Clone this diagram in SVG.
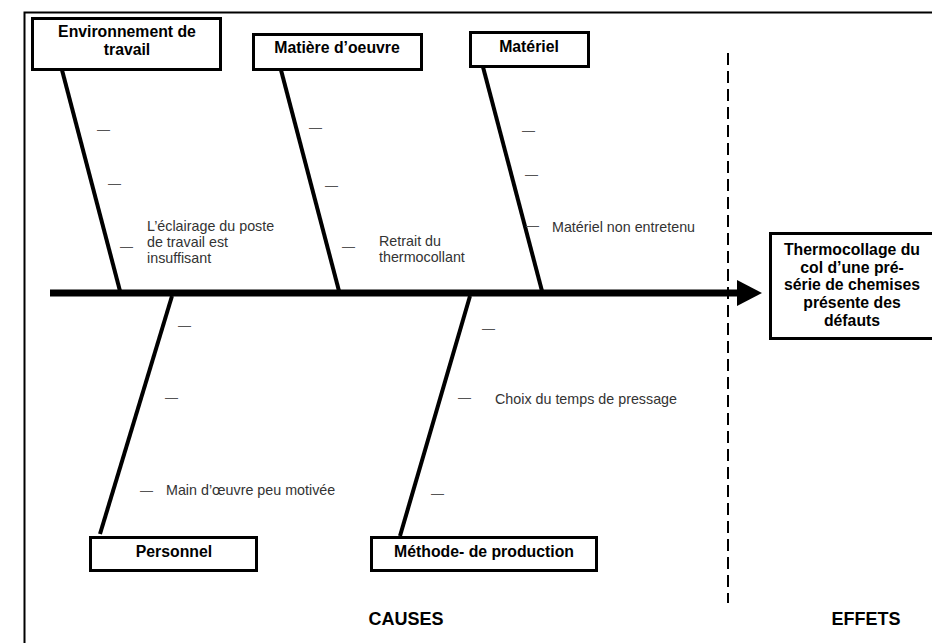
<svg xmlns="http://www.w3.org/2000/svg" width="932" height="643" viewBox="0 0 932 643">
<style>
.box{fill:#fff;stroke:#000;stroke-width:3}
.bone{stroke:#000;stroke-width:4;fill:none}
.t{font-family:"Liberation Sans",Arial,sans-serif;font-weight:bold;font-size:15.8px;fill:#000;text-anchor:middle}
.big{font-family:"Liberation Sans",Arial,sans-serif;font-weight:bold;font-size:18px;fill:#000;text-anchor:middle}
.c{font-family:"Liberation Sans",Arial,sans-serif;font-size:14.3px;fill:#333}
.d{font-family:"Liberation Sans",Arial,sans-serif;font-size:13px;fill:#555}
</style>
<rect x="0" y="0" width="932" height="643" fill="#fff"/>
<rect x="24.5" y="12.5" width="1000" height="700" fill="none" stroke="#000" stroke-width="2"/>
<line x1="728" y1="53" x2="728" y2="603" stroke="#000" stroke-width="2" stroke-dasharray="12,6"/>
<g id="connectors">
<line x1="50" y1="293" x2="739" y2="293" stroke="#000" stroke-width="7"/>
<polygon points="737,280 762,293 737,306" fill="#000"/>
<line class="bone" x1="62" y1="70" x2="120" y2="291"/>
<line class="bone" x1="281" y1="70" x2="339" y2="291"/>
<line class="bone" x1="483" y1="67" x2="542" y2="291"/>
<line class="bone" x1="172" y1="296" x2="100" y2="534"/>
<line class="bone" x1="470" y1="296" x2="400" y2="536"/>
</g>
<g id="environnement">
<rect class="box" x="32.5" y="18.5" width="188" height="51"/>
<text class="t" x="127" y="37">Environnement de</text>
<text class="t" x="127" y="55">travail</text>
<text class="d" x="97" y="134">—</text>
<text class="d" x="108" y="188">—</text>
<text class="d" x="120" y="251">—</text>
<text class="c" x="147" y="231">L’éclairage du poste</text>
<text class="c" x="147" y="247">de travail est</text>
<text class="c" x="147" y="263">insuffisant</text>
</g>
<g id="matiere">
<rect class="box" x="253.5" y="34.5" width="168" height="35"/>
<text class="t" x="337" y="53">Matière d’oeuvre</text>
<text class="d" x="309" y="132">—</text>
<text class="d" x="325" y="190">—</text>
<text class="d" x="342" y="251">—</text>
<text class="c" x="379" y="246">Retrait du</text>
<text class="c" x="379" y="262">thermocollant</text>
</g>
<g id="materiel">
<rect class="box" x="470.5" y="32.5" width="118" height="34"/>
<text class="t" x="529" y="52">Matériel</text>
<text class="d" x="522" y="135">—</text>
<text class="d" x="525" y="179">—</text>
<text class="d" x="526" y="230">—</text>
<text class="c" x="552" y="232">Matériel non entretenu</text>
</g>
<g id="personnel">
<rect class="box" x="90.5" y="537.5" width="166" height="33"/>
<text class="t" x="174" y="557">Personnel</text>
<text class="d" x="178" y="330">—</text>
<text class="d" x="165" y="402">—</text>
<text class="d" x="140" y="495">—</text>
<text class="c" x="166" y="495">Main d’œuvre peu motivée</text>
</g>
<g id="methode">
<rect class="box" x="371.5" y="537.5" width="225" height="33"/>
<text class="t" x="484" y="557">Méthode- de production</text>
<text class="d" x="482" y="333">—</text>
<text class="d" x="458" y="402">—</text>
<text class="d" x="431" y="498">—</text>
<text class="c" x="495" y="404">Choix du temps de pressage</text>
</g>
<g id="effet">
<rect class="box" x="770.5" y="233.5" width="170" height="105"/>
<text class="t" x="852" y="255">Thermocollage du</text>
<text class="t" x="852" y="272.7">col d’une pré-</text>
<text class="t" x="852" y="290.4">série de chemises</text>
<text class="t" x="852" y="308.1">présente des</text>
<text class="t" x="852" y="325.8">défauts</text>
</g>
<g id="legend">
<text class="big" x="406" y="625">CAUSES</text>
<text class="big" x="866" y="625">EFFETS</text>
</g>
</svg>
